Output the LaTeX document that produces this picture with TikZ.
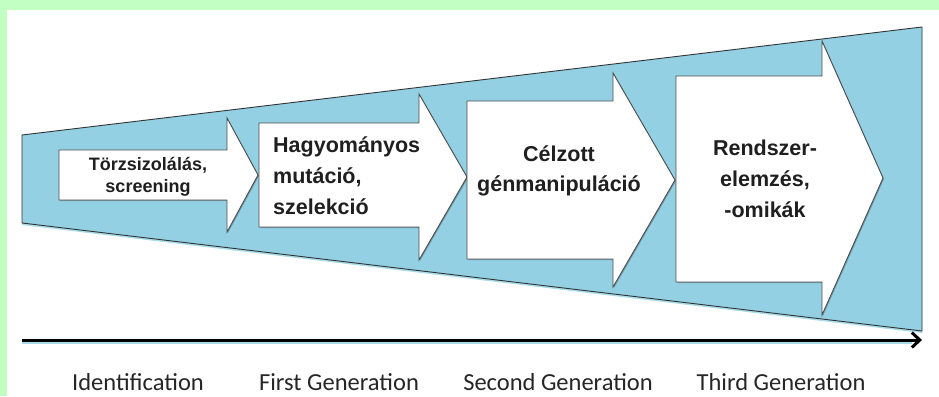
\documentclass[tikz,border=0pt]{standalone}
\usepackage{fontspec}
\newfontfamily\stagefont{Liberation Sans}
\newfontfamily\genfont{Carlito}
\usetikzlibrary{arrows.meta,shadows}
\definecolor{framegreen}{HTML}{C2FFC2}
\definecolor{funnelblue}{HTML}{93D0E4}
\definecolor{shadeblue}{HTML}{A8DCE8}
\tikzset{
  funnel/.style={fill=funnelblue, draw=black!80, line width=0.9pt,
    drop shadow={shadow xshift=0pt, shadow yshift=-2pt, fill=shadeblue, opacity=1}},
  stage/.style={fill=white, draw=black!70, line width=0.9pt,
    drop shadow={shadow xshift=1pt, shadow yshift=-1pt, fill=black, opacity=0.25}},
  stagetext/.style={font=\stagefont\bfseries\fontsize{21.5}{31}\selectfont, text=black!88, inner sep=0pt},
  gen/.style={font=\genfont\fontsize{24.5}{28}\selectfont, text=black!85, inner sep=0pt}
}
\begin{document}
\begin{tikzpicture}[x=1pt,y=-1pt]
\useasboundingbox (0,0) rectangle (939,396);
% frame
\fill[framegreen] (0,0) rectangle (939,396);
\fill[white] (7,10) rectangle (939,396);
% funnel
\draw[funnel] (22,135) -- (922,27) -- (922,331) -- (22,223) -- cycle;
% stages
\draw[stage] (59,150) -- (227,150) -- (227,118) -- (258,175) -- (227,232) -- (227,200) -- (59,200) -- cycle;
\draw[stage] (259,123) -- (419,123) -- (419,94) -- (467,177) -- (419,260) -- (419,227) -- (259,227) -- cycle;
\draw[stage] (467,101) -- (613,101) -- (613,73) -- (675,180) -- (613,287) -- (613,259) -- (467,259) -- cycle;
\draw[stage] (676,76) -- (822,76) -- (822,41) -- (883,178) -- (822,315) -- (822,282) -- (676,282) -- cycle;
\node [stagetext, align=center, font=\stagefont\bfseries\fontsize{18}{22.5}\selectfont] (s1) at (148,177) {Törzsizolálás,\\screening};
\node [stagetext, align=left, anchor=west] (s2) at (273,176) {Hagyományos\\mutáció,\\szelekció};
\node [stagetext, align=center, font=\stagefont\bfseries\fontsize{21.5}{30}\selectfont] (s3) at (559,171) {Célzott\\génmanipuláció};
\node [stagetext, align=center] (s4) at (765,179) {Rendszer-\\elemzés,\\-omikák};
% time axis
\coordinate (axL) at (22,340);
\coordinate (axR) at (922,340);
\draw[shadeblue, line width=2pt] ([yshift=-2.5pt]axL) -- ([yshift=-2.5pt,xshift=-10pt]axR);
\draw[line width=3pt, -{Straight Barb[length=8pt,width=15pt]}] (axL) -- (axR);
\node [gen] (g1) at (138,382) {Identification};
\node [gen] (g2) at (339,382) {First Generation};
\node [gen] (g3) at (558,382) {Second Generation};
\node [gen] (g4) at (781,382) {Third Generation};
\end{tikzpicture}
\end{document}
